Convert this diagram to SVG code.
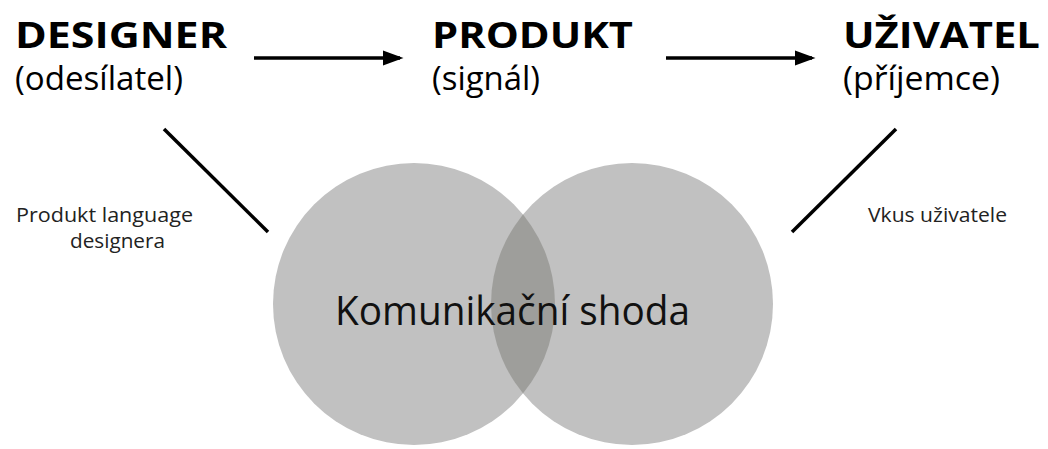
<svg xmlns="http://www.w3.org/2000/svg" width="1048" height="449" viewBox="0 0 1048 449">
<style>
.t{font-family:"Open Sans","Noto Sans","DejaVu Sans",sans-serif;fill:#000}
.h{font-weight:bold;font-size:36px}
.s{font-size:32px}
.l{font-size:20px;fill:#222}
.c{font-size:40px;fill:#111}
.ln{stroke:#000;stroke-width:3.5;fill:none}
</style>
<defs>
<marker id="ah" markerWidth="6" markerHeight="4.4" refX="5" refY="2.2" orient="auto" markerUnits="strokeWidth">
<path d="M0,0 L6,2.2 L0,4.4 z" fill="#000"/>
</marker>
<clipPath id="cl"><circle cx="414" cy="304" r="141"/></clipPath>
</defs>
<rect width="1048" height="449" fill="#fff"/>
<g id="circles">
<circle cx="414" cy="304" r="141" fill="#c1c1c1"/>
<circle cx="632" cy="304" r="141" fill="#c1c1c1"/>
<circle cx="632" cy="304" r="141" fill="#9e9e9b" clip-path="url(#cl)"/>
</g>
<g id="connectors">
<line class="ln" x1="254" y1="58" x2="400" y2="58" marker-end="url(#ah)"/>
<line class="ln" x1="666" y1="58" x2="812" y2="58" marker-end="url(#ah)"/>
<line class="ln" x1="164" y1="129" x2="268" y2="232"/>
<line class="ln" x1="896" y1="129" x2="792" y2="232"/>
</g>
<g id="designer">
<text class="t h" x="15" y="48" textLength="212" lengthAdjust="spacingAndGlyphs">DESIGNER</text>
<text class="t s" x="15" y="90" textLength="168" lengthAdjust="spacingAndGlyphs">(odesílatel)</text>
</g>
<g id="produkt">
<text class="t h" x="432" y="48" textLength="201" lengthAdjust="spacingAndGlyphs">PRODUKT</text>
<text class="t s" x="432" y="90" textLength="108" lengthAdjust="spacingAndGlyphs">(signál)</text>
</g>
<g id="uzivatel">
<text class="t h" x="843" y="48" textLength="197" lengthAdjust="spacingAndGlyphs">UŽIVATEL</text>
<text class="t s" x="843" y="90" textLength="157" lengthAdjust="spacingAndGlyphs">(příjemce)</text>
</g>
<g id="label-left">
<text class="t l" x="16" y="222" textLength="177" lengthAdjust="spacingAndGlyphs">Produkt  language</text>
<text class="t l" x="70" y="248" textLength="95" lengthAdjust="spacingAndGlyphs">designera</text>
</g>
<g id="label-right">
<text class="t l" x="868" y="222" textLength="139" lengthAdjust="spacingAndGlyphs">Vkus uživatele</text>
</g>
<g id="shoda">
<text class="t c" x="335" y="325" textLength="355" lengthAdjust="spacingAndGlyphs">Komunikační shoda</text>
</g>
</svg>
